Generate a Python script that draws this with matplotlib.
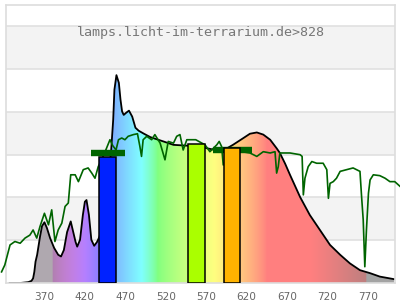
import numpy as np
import matplotlib
matplotlib.use("Agg")
from matplotlib import pyplot as plt

# lamp spectrum (black outline, filled with spectral colours)
lamp_nm = [327, 340, 350, 354, 356, 357.5, 359, 361, 364.5, 367, 370, 373, 377, 382,
           387, 390.5, 394, 398, 402.5, 405, 408.5, 410.5, 414, 417.5, 420, 422, 425,
           428, 431.5, 435, 438, 445, 452.5, 455, 456.5, 459, 462, 464, 466, 468,
           471, 474.5, 478.5, 482.5, 486.5, 493, 501, 517, 529.5, 547.5, 568.5, 581,
           592, 603, 616, 624, 632.5, 640.5, 649, 657, 661, 667.5, 673.5, 686, 698,
           710.5, 723, 735.5, 747.5, 760, 772.5, 784.5, 802]
lamp_val = [0.0, 0.0, 0.02, 0.05, 0.11, 0.26, 0.5, 0.66, 1.08, 1.33, 1.42, 1.29, 1.05,
            0.82, 0.66, 0.62, 0.77, 1.19, 1.44, 1.24, 0.96, 0.85, 1.01, 1.59, 1.9, 1.94,
            1.59, 1.01, 0.87, 0.96, 1.08, 1.6, 3.11, 3.82, 4.52, 4.86, 4.68, 4.29, 4.01,
            3.93, 3.98, 4.03, 3.89, 3.63, 3.56, 3.49, 3.41, 3.31, 3.23, 3.21, 3.16, 3.11,
            3.11, 3.23, 3.39, 3.49, 3.52, 3.47, 3.35, 3.15, 3.04, 2.79, 2.53, 2.01, 1.59,
            1.24, 0.89, 0.66, 0.46, 0.3, 0.23, 0.15, 0.09]

# reference spectrum (dark green line)
ref_nm = [317, 321, 327.5, 333.5, 340, 346, 352, 356, 360.5, 364.5, 370, 375, 379, 383,
          387, 391.5, 395.5, 399.5, 402.5, 408, 412, 418, 424, 428.5, 432.5, 436.5,
          443.5, 451, 454.5, 458.5, 461.5, 465.5, 469.5, 473.5, 480, 485, 488, 490,
          492, 496.5, 502.5, 506.5, 513, 519, 523, 529.5, 533.5, 537.5, 541.5, 546,
          557, 568.5, 574.5, 583, 586, 589, 591, 601.5, 614, 624, 632.5, 640.5, 649,
          655, 657, 659, 661, 673.5, 686, 688.5, 690, 692, 696, 700.5, 706.5, 714.5,
          719, 721, 723, 727, 731, 735.5, 743.5, 751.5, 760, 762, 764, 766, 768,
          770.5, 772.5, 776.5, 784.5, 791, 797, 803, 809.5]
ref_val = [0.26, 0.42, 0.89, 0.97, 0.93, 1.05, 1.12, 1.24, 1.05, 1.32, 1.63, 1.36, 1.71,
           0.97, 1.24, 1.4, 1.79, 1.87, 2.53, 2.53, 2.37, 2.65, 2.69, 2.57, 2.45, 2.72,
           3.0, 3.35, 3.21, 3.11, 3.35, 3.39, 3.35, 3.43, 3.47, 3.49, 3.19, 2.96, 3.35,
           3.43, 3.35, 3.47, 3.27, 2.88, 3.31, 3.27, 3.43, 3.47, 3.11, 3.35, 3.35, 3.23,
           3.07, 3.23, 3.31, 3.19, 2.76, 3.11, 3.07, 3.04, 2.96, 3.07, 3.04, 3.07, 2.57,
           2.72, 3.04, 3.04, 3.0, 2.96, 2.06, 2.45, 2.72, 2.84, 2.8, 2.8, 2.65, 1.98,
           2.33, 2.37, 2.45, 2.61, 2.65, 2.69, 2.61, 2.02, 1.48, 0.38, 1.24, 2.1, 2.41,
           2.53, 2.51, 2.45, 2.37, 2.37, 2.26]

# coloured bars
bar_lo = [438, 548, 592]
bar_hi = [458.5, 568, 612]
bar_val = [2.95, 3.26, 3.16]
bar_col = ["#0022ff", "#aaff00", "#ffb300"]

# dark green range markers
mark_lo = [427.5, 578]
mark_hi = [469.5, 626]
mark_val = [3.04, 3.11]

title = "lamps.licht-im-terrarium.de>828"
xticks = [320, 370, 420, 470, 520, 570, 620, 670, 720, 770]

xmin, xmax = 322.5, 803.3
ymax = 6.5


def wl_rgb(w):
    if w < 380:
        return (0.69, 0.66, 0.69)
    if w > 768:
        return (0.64, 0.64, 0.64)
    if w < 440:
        r, g, b = -(w - 440) / 60, 0.0, 1.0
    elif w < 490:
        r, g, b = 0.0, (w - 440) / 50, 1.0
    elif w < 510:
        r, g, b = 0.0, 1.0, -(w - 510) / 20
    elif w < 580:
        r, g, b = (w - 510) / 70, 1.0, 0.0
    elif w < 645:
        r, g, b = 1.0, -(w - 645) / 65, 0.0
    else:
        r, g, b = 1.0, 0.0, 0.0
    if w < 420:
        f = 0.3 + 0.7 * (w - 380) / 40
    elif w > 700:
        f = 0.3 + 0.7 * (780 - w) / 80
    else:
        f = 1.0
    return tuple(0.5 + 0.5 * (c * f) ** 0.8 for c in (r, g, b))


fig = plt.figure(figsize=(4, 3), dpi=100)
ax = fig.add_axes([6 / 400, 17 / 300, 389 / 400, 278 / 300])
ax.set_xlim(xmin, xmax)
ax.set_ylim(0, ymax)

# alternating bands + grid
for k in range(1, 6, 2):
    ax.axhspan(k, k + 1, color="#f3f3f3", zorder=0, lw=0)
for k in range(1, 7):
    ax.axhline(k, color="#e0e0e0", lw=1.2, zorder=0.5)

# spectral gradient under lamp curve
wl = np.linspace(xmin, xmax, 800)
grad = np.array([[wl_rgb(w) for w in wl]])
poly = ax.fill_between(lamp_nm, lamp_val, 0, color="none", lw=0)
img = ax.imshow(grad, extent=[xmin, xmax, 0, ymax], aspect="auto",
                origin="lower", zorder=1, interpolation="bilinear")
img.set_clip_path(poly.get_paths()[0], transform=ax.transData)
ax.plot(lamp_nm, lamp_val, color="black", lw=1.3, zorder=2)

ax.plot(ref_nm, ref_val, color="#006400", lw=1.2, zorder=3, clip_on=False)

ax.hlines(mark_val, mark_lo, mark_hi, color="#006400", lw=4.6, zorder=4,
          capstyle="butt")

for lo, hi, v, c in zip(bar_lo, bar_hi, bar_val, bar_col):
    ax.bar(lo, v, width=hi - lo, align="edge", color=c, edgecolor="black",
           lw=1.1, zorder=5)

ax.text(0.5, 0.9, title, transform=ax.transAxes, ha="center", va="center",
        family="DejaVu Sans Mono", fontsize=9.6, color="#777777")

ax.set_xticks(xticks[1:])
ax.set_xticklabels([str(t) for t in xticks[1:]])
ax.text(xticks[0], -0.1, str(xticks[0]), transform=ax.get_xaxis_transform(),
        ha="center", va="top", fontsize=7.6, color="#666666", clip_on=False)
ax.tick_params(axis="x", length=0, pad=6.5, labelsize=7.6, labelcolor="#666666")
ax.set_yticks([])
for s in ax.spines.values():
    s.set_color("#dddddd")
    s.set_linewidth(1.2)

fig.savefig("out.png", dpi=100)
